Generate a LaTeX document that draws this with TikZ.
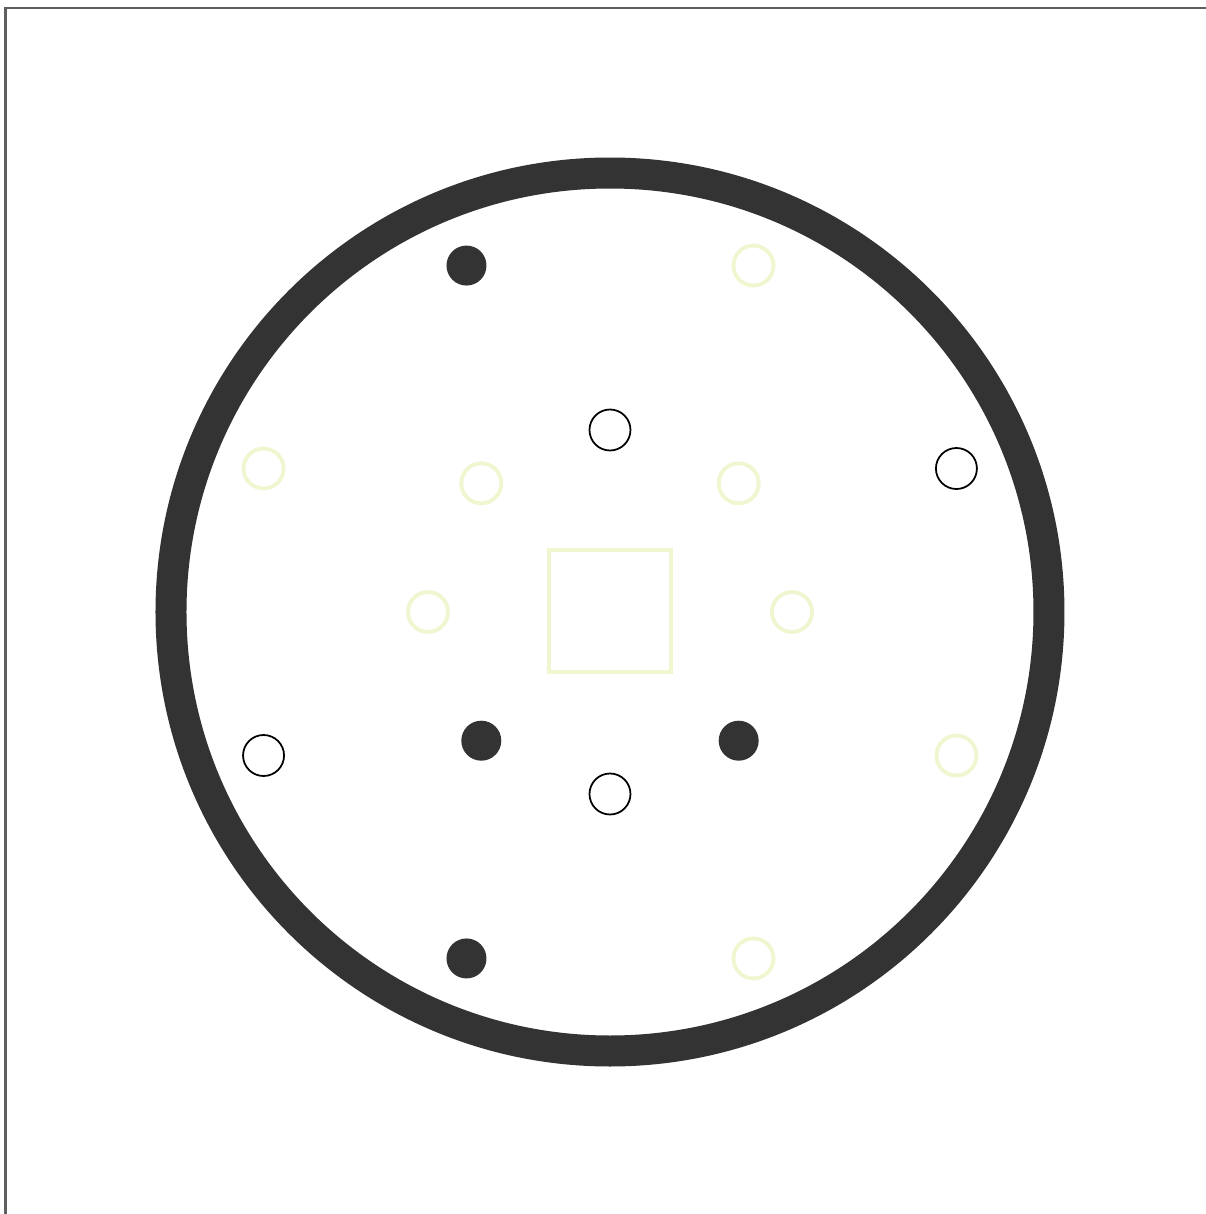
\documentclass[tikz,border=0pt]{standalone}
\usepackage{xcolor}
\usepackage{tikz}
\usetikzlibrary{positioning}

\definecolor{ringgray}{RGB}{51,51,51}
\definecolor{paleyellow}{RGB}{241,245,208}
\definecolor{framegray}{RGB}{95,95,95}

\begin{document}
\begin{tikzpicture}[
    ring/.style={draw=ringgray, line width=0.31cm},
    dot/.style={circle, fill=ringgray, minimum size=0.4cm, inner sep=0pt},
    hole/.style={circle, draw=black, line width=0.5pt, minimum size=0.41cm, inner sep=0pt},
    pale/.style={circle, draw=paleyellow, line width=1.1pt, minimum size=0.4cm, inner sep=0pt},
    palebox/.style={draw=paleyellow, line width=1.2pt, minimum size=1.22cm, inner sep=0pt}
  ]
    \useasboundingbox (-6.10,-6.02) rectangle (5.96,6.12);

    % Frame edges
    \coordinate (fbl) at (-6.045,-6.02);
    \coordinate (ftl) at (-6.045,6.04);
    \coordinate (ftr) at (5.96,6.04);
    \draw[framegray, line width=0.8pt] (fbl) -- (ftl) -- (ftr);

    % Outer ring
    \node[circle, ring, minimum size=8.78cm, inner sep=0pt] (rim) at (0,0) {};

    % Centre square
    \node[palebox] (core) at (0,0.01) {};

    % Inner ring of markers
    \foreach \a/\s/\n in {0/pale/ia, 45/pale/ib, 90/hole/ic, 135/pale/id,
                          180/pale/ie, 225/dot/if, 270/hole/ig, 315/dot/ih}
      \node[\s] (\n) at (\a:1.82) {};

    % Outer ring of markers
    \foreach \a/\s/\n in {22.5/hole/oa, 67.5/pale/ob, 112.5/dot/oc, 157.5/pale/od,
                          202.5/hole/oe, 247.5/dot/of, 292.5/pale/og, 337.5/pale/oh}
      \node[\s] (\n) at (\a:3.75) {};
  \end{tikzpicture}
\end{document}
